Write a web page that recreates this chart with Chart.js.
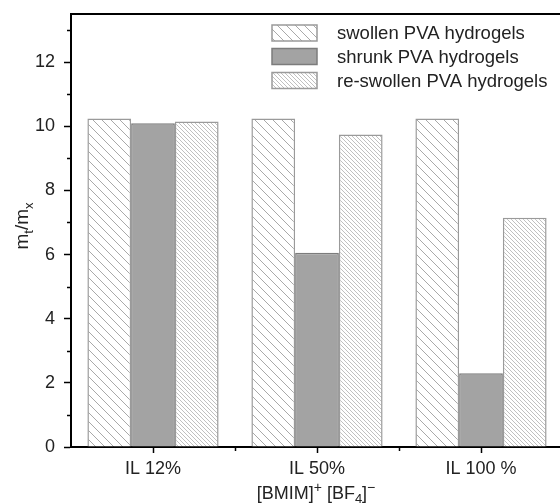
<!DOCTYPE html>
<html>
<head>
<meta charset="utf-8">
<script src="https://cdn.jsdelivr.net/npm/chart.js@4.4.1/dist/chart.umd.min.js"></script>
<style>
html,body{margin:0;padding:0;background:#fff;overflow:hidden;}
#wrap{width:566px;height:503px;}
</style>
</head>
<body>
<div id="wrap"><canvas id="c" width="566" height="503"></canvas></div>
<script>
// ---- data ----
const categories = ['IL 12%', 'IL 50%', 'IL 100 %'];
const seriesNames = ['swollen PVA hydrogels', 'shrunk PVA hydrogels', 're-swollen PVA hydrogels'];
const swollen = [10.24, 10.24, 10.24];
const shrunk = [10.09, 6.06, 2.30];
const reswollen = [10.15, 9.74, 7.15];
const yTicks = [0, 2, 4, 6, 8, 10, 12];
const yMinorTicks = [1, 3, 5, 7, 9, 11, 13];

const FONT = "'Liberation Sans', Arial, Helvetica, sans-serif";

function hatch(size, color, lw) {
  const c = document.createElement('canvas');
  c.width = size; c.height = size;
  const g = c.getContext('2d');
  g.fillStyle = '#fff';
  g.fillRect(0, 0, size, size);
  g.strokeStyle = color;
  g.lineWidth = lw;
  for (let k = -1; k <= 1; k++) {
    g.beginPath();
    g.moveTo(k * size, 0);
    g.lineTo(k * size + size, size);
    g.stroke();
  }
  return g.createPattern(c, 'repeat');
}

const ctx = document.getElementById('c').getContext('2d');
const patSwollen = hatch(9, '#a9a9a9', 1);
const patReswollen = hatch(4, '#b9b9b9', 0.9);

const frameAndExtras = {
  id: 'frameAndExtras',
  afterDraw(chart) {
    const { ctx, chartArea: a, scales } = chart;
    ctx.save();
    // top and right frame
    ctx.strokeStyle = '#000';
    ctx.lineWidth = 2;
    ctx.beginPath();
    ctx.moveTo(a.left - 1, a.top);
    ctx.lineTo(a.right, a.top);
    ctx.lineTo(a.right, a.bottom);
    ctx.stroke();
    // minor y ticks
    ctx.lineWidth = 1.5;
    yMinorTicks.forEach(v => {
      const y = Math.round(scales.y.getPixelForValue(v)) + 0.5;
      ctx.beginPath();
      ctx.moveTo(a.left - 4, y);
      ctx.lineTo(a.left, y);
      ctx.stroke();
    });
    // minor x ticks (category boundaries)
    for (let i = 0; i < categories.length - 1; i++) {
      const x = Math.round((scales.x.getPixelForValue(i) + scales.x.getPixelForValue(i + 1)) / 2) + 0.5;
      ctx.beginPath();
      ctx.moveTo(x, a.bottom);
      ctx.lineTo(x, a.bottom + 4);
      ctx.stroke();
    }
    // legend
    const ds = chart.data.datasets;
    const lx = 272, ly = [25, 48.5, 72.5], bw = 45, bh = 16;
    ctx.font = '18.5px ' + FONT;
    ctx.textBaseline = 'middle';
    ctx.textAlign = 'left';
    ds.forEach((d, i) => {
      ctx.fillStyle = d.backgroundColor;
      ctx.fillRect(lx, ly[i], bw, bh);
      ctx.strokeStyle = d.borderColor;
      ctx.lineWidth = 1.5;
      ctx.strokeRect(lx, ly[i], bw, bh);
      ctx.fillStyle = '#222';
      ctx.fillText(d.label, 337, ly[i] + bh / 2 + 1);
    });
    // y title: m_t/m_x (rotated)
    ctx.save();
    ctx.translate(28, 226);
    ctx.rotate(-Math.PI / 2);
    ctx.fillStyle = '#222';
    ctx.textBaseline = 'alphabetic';
    const yRuns = [['m', 0, 19], ['t', 5, 13], ['/m', 0, 19], ['x', 5, 13]];
    drawRuns(ctx, yRuns, 0, 0);
    ctx.restore();
    // x title: [BMIM]+ [BF4]-
    ctx.fillStyle = '#222';
    ctx.textBaseline = 'alphabetic';
    const xRuns = [['[BMIM]', 0, 18], ['+', -7, 14], [' [BF', 0, 18], ['4', 4, 13], [']', 0, 18], ['\u2212', -7, 14]];
    drawRuns(ctx, xRuns, 316, 499);
    ctx.restore();
  }
};

function drawRuns(ctx, runs, cx, baseline) {
  let total = 0;
  runs.forEach(r => { ctx.font = r[2] + 'px ' + FONT; total += ctx.measureText(r[0]).width; });
  let x = cx - total / 2;
  ctx.textAlign = 'left';
  runs.forEach(r => {
    ctx.font = r[2] + 'px ' + FONT;
    ctx.fillText(r[0], x, baseline + r[1]);
    x += ctx.measureText(r[0]).width;
  });
}

new Chart(ctx, {
  type: 'bar',
  data: {
    labels: categories,
    datasets: [
      { label: seriesNames[0], data: swollen, backgroundColor: patSwollen, borderColor: '#9a9a9a', borderWidth: 1.5 },
      { label: seriesNames[1], data: shrunk, backgroundColor: '#a3a3a3', borderColor: '#7c7c7c', borderWidth: 1.5 },
      { label: seriesNames[2], data: reswollen, backgroundColor: patReswollen, borderColor: '#9a9a9a', borderWidth: 1.5 }
    ]
  },
  options: {
    responsive: false,
    animation: false,
    events: [],
    layout: { padding: { top: 14, right: 3, left: 0, bottom: 0 } },
    plugins: { legend: { display: false }, tooltip: { enabled: false } },
    datasets: { bar: { barPercentage: 1, categoryPercentage: 0.8 } },
    scales: {
      x: {
        type: 'category',
        offset: true,
        grid: { display: true, drawOnChartArea: false, offset: false, tickLength: 6, tickColor: '#000', tickWidth: 1.5 },
        border: { display: true, color: '#000', width: 2 },
        ticks: { font: { size: 18, family: FONT }, color: '#222', padding: 5, maxRotation: 0 },
        afterFit: s => { s.height = 56; s.paddingLeft = 0; s.paddingRight = 0; }
      },
      y: {
        min: 0,
        max: 13.5,
        afterBuildTicks: s => { s.ticks = yTicks.map(v => ({ value: v })); },
        grid: { display: true, drawOnChartArea: false, tickLength: 7, tickColor: '#000', tickWidth: 1.5 },
        border: { display: true, color: '#000', width: 2 },
        ticks: { font: { size: 18, family: FONT }, color: '#222', padding: 9 },
        afterFit: s => { s.width = 71; s.paddingTop = 0; s.paddingBottom = 0; }
      }
    }
  },
  plugins: [frameAndExtras]
});
</script>
</body>
</html>
